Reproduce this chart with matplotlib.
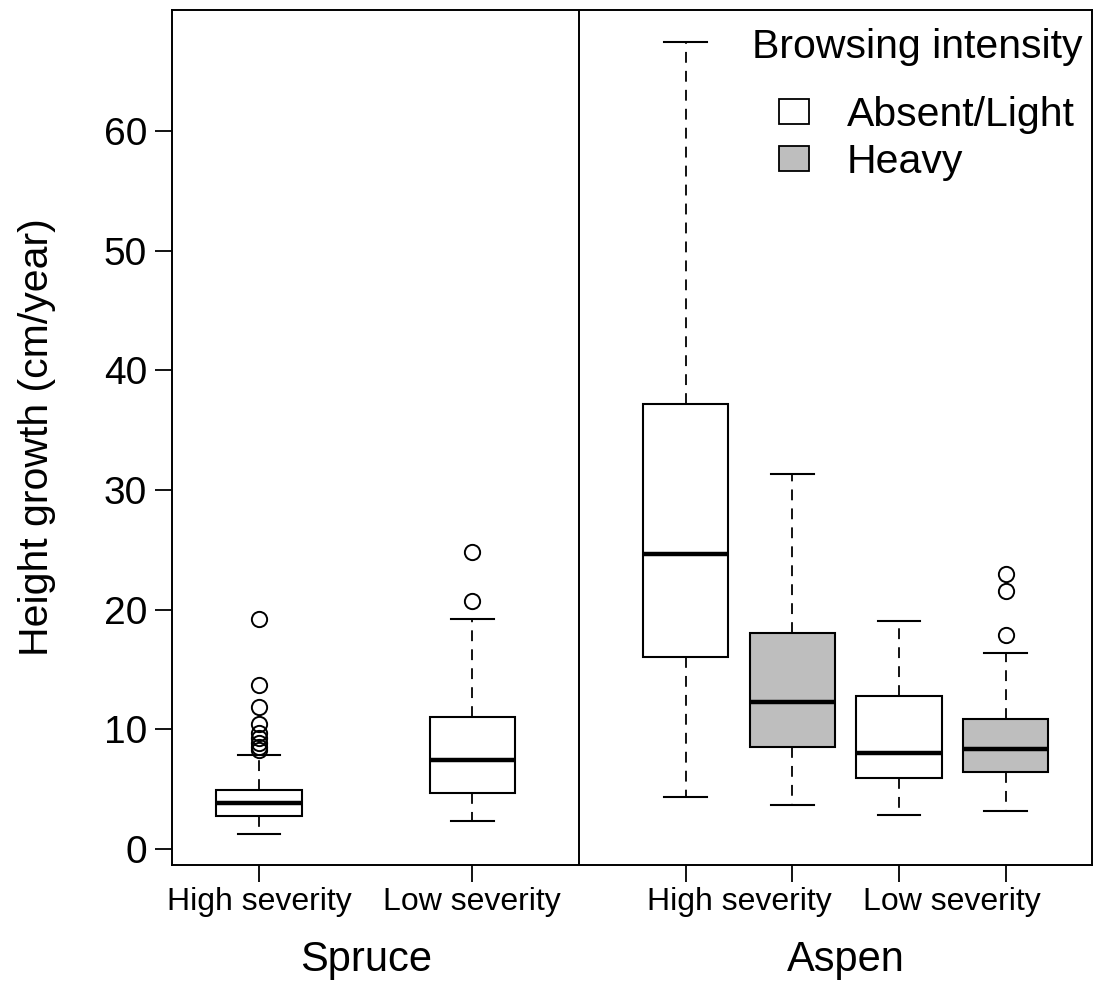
import numpy as np
import matplotlib
matplotlib.use("Agg")
import matplotlib.pyplot as plt
from matplotlib.patches import Patch
import matplotlib.transforms as mtransforms

plt.rcParams['font.family'] = ['Liberation Sans', 'DejaVu Sans']

# values (cm/year)
species = ["Spruce", "Aspen"]
severity_labels = ["High severity", "Low severity", "High severity", "Low severity"]
browsing = ["Absent/Light", "Absent/Light", "Absent/Light", "Heavy", "Absent/Light", "Heavy"]
box_q1 = [2.72, 4.71, 16.07, 8.52, 5.90, 6.46]
box_med = [3.84, 7.41, 24.67, 12.28, 7.99, 8.38]
box_q3 = [4.90, 11.05, 37.18, 18.05, 12.81, 10.83]
whisk_lo = [1.22, 2.34, 4.34, 3.65, 2.81, 3.15]
whisk_hi = [7.82, 19.20, 67.40, 31.35, 19.07, 16.37]
outliers = [
    [19.2, 13.67, 11.84, 10.44, 9.66, 9.25, 8.88, 8.55, 8.27],
    [20.7, 24.8],
    [],
    [],
    [],
    [17.88, 21.55, 22.95],
]

positions = [1, 3, 5, 6, 7, 8]
label_pos = [1, 3, 5.5, 7.5]
species_pos = [2, 6.5]
fill = {"Absent/Light": "white", "Heavy": "#bebebe"}

fig = plt.figure(figsize=(10.93, 9.84), dpi=100)
ax = fig.add_axes([172 / 1093, 119 / 984, 920 / 1093, 855 / 984])

stats = []
for i in range(len(positions)):
    stats.append(dict(med=box_med[i], q1=box_q1[i], q3=box_q3[i],
                      whislo=whisk_lo[i], whishi=whisk_hi[i], fliers=outliers[i]))

bp = ax.bxp(stats, positions=positions, widths=0.8, patch_artist=True,
            boxprops=dict(linewidth=1.5, edgecolor='black'),
            medianprops=dict(color='black', linewidth=3.2, solid_capstyle='butt'),
            whiskerprops=dict(color='black', linewidth=1.3, linestyle=(0, (6, 4.5))),
            capprops=dict(color='black', linewidth=1.5),
            flierprops=dict(marker='o', markersize=11, markerfacecolor='none',
                            markeredgecolor='black', markeredgewidth=1.4),
            capwidths=0.4)
for patch, b in zip(bp['boxes'], browsing):
    patch.set_facecolor(fill[b])

ax.axvline(4, color='black', linewidth=1.4)

ax.set_xlim(0.185, 8.81)
ax.set_ylim(-1.34, 70.1)
ax.set_yticks(range(0, 70, 10))
# ticks at every box, labels centred under each severity group
ax.xaxis.remove_overlapping_locs = False
ax.set_xticks(positions)
ax.set_xticklabels([])
ax.set_xticks(label_pos, minor=True)
ax.set_xticklabels(severity_labels, minor=True, fontsize=23)
ax.tick_params(axis='y', labelsize=28, length=12, width=1.3, pad=6)
ax.tick_params(axis='x', which='major', length=12, width=1.3)
ax.tick_params(axis='x', which='minor', length=0, pad=16)
for s in ax.spines.values():
    s.set_linewidth(1.4)

ax.set_ylabel("Height growth (cm/year)", fontsize=29.5, labelpad=34)

trans = mtransforms.blended_transform_factory(ax.transData, fig.transFigure)
for name, x in zip(species, species_pos):
    ax.text(x, 24 / 984, name, transform=trans, ha='center', va='center', fontsize=30)

# legend
ax.text(1083 / 1093, 1 - 47 / 984, "Browsing intensity", transform=fig.transFigure,
        ha='right', va='center', fontsize=29.5)
handles = [Patch(facecolor=fill[k], edgecolor='black', linewidth=1.3, label=k)
           for k in ["Absent/Light", "Heavy"]]
leg = ax.legend(handles=handles, loc='upper left',
                bbox_to_anchor=(779 / 1093, 1 - 96 / 984), bbox_transform=fig.transFigure,
                frameon=False, fontsize=29.5, handlelength=0.73, handleheight=0.54,
                handletextpad=0.93, labelspacing=0.22, borderpad=0, borderaxespad=0)

fig.savefig("out.png", dpi=100)
